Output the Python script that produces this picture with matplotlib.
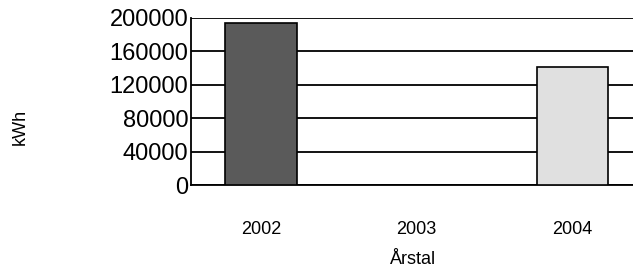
import matplotlib.pyplot as plt
import numpy as np

years = ['2002', '2003', '2004']
kwh = [194000, 0, 141000]
colors = ['#5a5a5a', '#ffffff', '#e0e0e0']
y_ticks = [0, 40000, 80000, 120000, 160000, 200000]

plt.rcParams['font.family'] = ['Liberation Sans', 'DejaVu Sans']

fig = plt.figure(figsize=(6.33, 2.68), dpi=100)
ax = fig.add_axes([191 / 633, 1 - 185 / 268, 1 - 191 / 633, (185 - 18) / 268])

x = np.arange(len(years))
ax.bar(x, kwh, width=0.46, color=colors, edgecolor='black', linewidth=1.2, zorder=3)

ax.set_ylim(0, 200000)
ax.set_xlim(-0.45, 2.39)
ax.set_yticks(y_ticks)
ax.set_yticklabels([str(v) for v in y_ticks], fontsize=17)
ax.set_xticks(x)
ax.set_xticklabels(years, fontsize=13)
ax.tick_params(axis='x', length=0, pad=26)
ax.tick_params(axis='y', length=0, pad=2)
ax.grid(axis='y', color='black', linewidth=1.3, zorder=1)

for side in ['top', 'right']:
    ax.spines[side].set_visible(False)
ax.spines['left'].set_linewidth(1.3)
ax.spines['bottom'].set_linewidth(1.3)

fig.text(413 / 633, 1 - 264 / 268, 'Årstal', fontsize=13,
         ha='center', va='baseline')
fig.text(20 / 633, 1 - 127 / 268, 'kWh', rotation=90, fontsize=13,
         ha='center', va='center')

fig.savefig('out.png', dpi=100)
